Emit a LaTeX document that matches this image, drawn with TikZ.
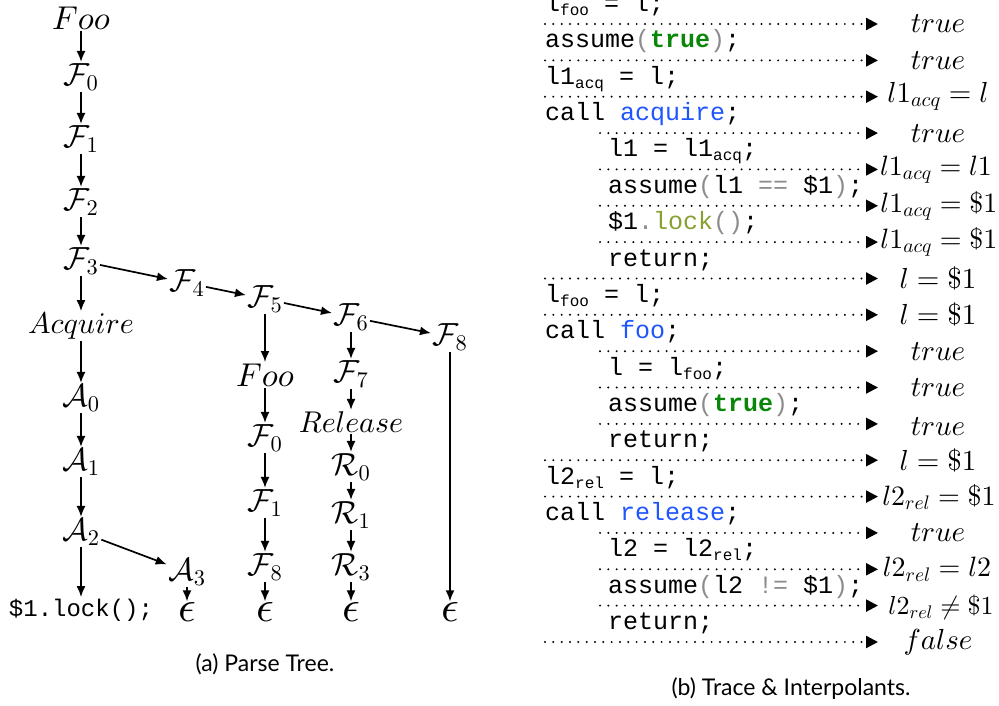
\documentclass[tikz,border=0pt]{standalone}
\usepackage{fontspec}
\setsansfont{Lato}
\newfontfamily\cdfont{Liberation Mono}
\DeclareFontFamily{OML}{cmm}{\skewchar\font127 }
\DeclareFontShape{OML}{cmm}{m}{it}{<-> cmmi10}{}
\DeclareFontFamily{OMS}{cmsy}{\skewchar\font48 }
\DeclareFontShape{OMS}{cmsy}{m}{n}{<-> cmsy10}{}
\DeclareFontFamily{OT1}{cmr}{\hyphenchar\font45 }
\DeclareFontShape{OT1}{cmr}{m}{n}{<-> cmr10}{}
\usetikzlibrary{arrows.meta}
\newcommand\csub[1]{\raisebox{-4pt}{\fontsize{16}{16}\selectfont #1}}
\definecolor{kwgreen}{RGB}{10,135,10}
\definecolor{cgray}{RGB}{140,140,140}
\definecolor{cblue}{RGB}{30,85,255}
\definecolor{colive}{RGB}{135,160,50}
\begin{document}
\begin{tikzpicture}[x=1pt,y=-1pt,
  cal/.style={inner sep=1.5pt,font=\fontsize{32}{32}\selectfont},
  wrd/.style={inner sep=1.5pt,font=\fontsize{30}{30}\selectfont},
  foo/.style={inner sep=1.5pt,font=\fontsize{33}{33}\selectfont},
  eps/.style={inner sep=1pt,font=\fontsize{44}{44}\selectfont},
  tarr/.style={-{Latex[length=11pt,width=9pt]},line width=1.7pt},
  code/.style={anchor=base west,inner sep=0pt,font=\cdfont\fontsize{25}{25}\selectfont},
  itp/.style={inner sep=0pt,font=\fontsize{29}{29}\selectfont},
  dotarr/.style={line width=2.2pt,line cap=round,dash pattern=on 0pt off 8.33pt,
    -{Triangle[length=12pt,width=12pt]}},
  captxt/.style={inner sep=0pt,font=\sffamily\fontsize{23}{23}\selectfont}
]
\useasboundingbox (0,0) rectangle (999,706);

% ---------- parse tree ----------
\node[foo] (foo1) at (81,18) {$Foo$};
\node[cal] (f0a) at (81,77) {$\mathcal{F}_0$};
\node[cal] (f1a) at (81,139) {$\mathcal{F}_1$};
\node[cal] (f2a) at (81,202) {$\mathcal{F}_2$};
\node[cal] (f3) at (81,261) {$\mathcal{F}_3$};
\node[wrd] (acq) at (81,326) {$Acquire$};
\node[cal] (a0) at (81,398) {$\mathcal{A}_0$};
\node[cal] (a1) at (81,462) {$\mathcal{A}_1$};
\node[cal] (a2) at (81,532) {$\mathcal{A}_2$};
\node[inner sep=1.5pt,font=\cdfont\fontsize{24}{24}\selectfont] (lock) at (81,610) {\$1.lock();};
\node[cal] (a3) at (187,572) {$\mathcal{A}_3$};
\node[eps] (e1) at (187,612) {$\epsilon$};

\node[cal] (f4) at (187,283) {$\mathcal{F}_4$};
\node[cal] (f5) at (265,299) {$\mathcal{F}_5$};
\node[foo] (foo2) at (265,375) {$Foo$};
\node[cal] (f0b) at (265,438) {$\mathcal{F}_0$};
\node[cal] (f1b) at (265,503) {$\mathcal{F}_1$};
\node[cal] (f8b) at (265,567) {$\mathcal{F}_8$};
\node[eps] (e2) at (265,612) {$\epsilon$};

\node[cal] (f6) at (351,317) {$\mathcal{F}_6$};
\node[cal] (f7) at (351,374) {$\mathcal{F}_7$};
\node[wrd] (rel) at (351,422) {$Release$};
\node[cal] (r0) at (351,467) {$\mathcal{R}_0$};
\node[cal] (r1) at (351,515) {$\mathcal{R}_1$};
\node[cal] (r3) at (351,567) {$\mathcal{R}_3$};
\node[eps] (e3) at (351,612) {$\epsilon$};

\node[cal] (f8a) at (450,337) {$\mathcal{F}_8$};
\node[eps] (e4) at (450,612) {$\epsilon$};

\draw[tarr] (foo1) -- (f0a);
\draw[tarr] (f0a) -- (f1a);
\draw[tarr] (f1a) -- (f2a);
\draw[tarr] (f2a) -- (f3);
\draw[tarr] (f3) -- (acq);
\draw[tarr] (acq) -- (a0);
\draw[tarr] (a0) -- (a1);
\draw[tarr] (a1) -- (a2);
\draw[tarr] (a2) -- (lock);
\draw[tarr] (a2) -- (a3);
\draw[tarr] (a3) -- (e1);
\draw[tarr] (f3) -- (f4);
\draw[tarr] (f4) -- (f5);
\draw[tarr] (f5) -- (f6);
\draw[tarr] (f6) -- (f8a);
\draw[tarr] (f8a) -- (e4);
\draw[tarr] (f5) -- (foo2);
\draw[tarr] (foo2) -- (f0b);
\draw[tarr] (f0b) -- (f1b);
\draw[tarr] (f1b) -- (f8b);
\draw[tarr] (f8b) -- (e2);
\draw[tarr] (f6) -- (f7);
\draw[tarr] (f7) -- (rel);
\draw[tarr] (rel) -- (r0);
\draw[tarr] (r0) -- (r1);
\draw[tarr] (r1) -- (r3);
\draw[tarr] (r3) -- (e3);

\node[captxt] (capa) at (265,664) {(a) Parse Tree.};

% ---------- trace ----------
\node[code] (c0) at (545,11.5) {l\csub{foo} = l;};
\node[code] (c1) at (545,47.9) {assume{\color{cgray}(}{\color{kwgreen}\bfseries true}{\color{cgray})};};
\node[code] (c2) at (545,84.2) {l1\csub{acq} = l;};
\node[code] (c3) at (545,120.6) {call {\color{cblue}acquire};};
\node[code] (c4) at (608,156.9) {l1 = l1\csub{acq};};
\node[code] (c5) at (608,193.3) {assume{\color{cgray}(}l1 {\color{cgray}==} \$1{\color{cgray})};};
\node[code] (c6) at (608,229.6) {\$1{\color{cgray}.}{\color{colive}lock}{\color{cgray}()};};
\node[code] (c7) at (608,266.0) {return;};
\node[code] (c8) at (545,302.3) {l\csub{foo} = l;};
\node[code] (c9) at (545,338.7) {call {\color{cblue}foo};};
\node[code] (c10) at (608,375.0) {l = l\csub{foo};};
\node[code] (c11) at (608,411.4) {assume{\color{cgray}(}{\color{kwgreen}\bfseries true}{\color{cgray})};};
\node[code] (c12) at (608,447.7) {return;};
\node[code] (c13) at (545,484.1) {l2\csub{rel} = l;};
\node[code] (c14) at (545,520.4) {call {\color{cblue}release};};
\node[code] (c15) at (608,556.8) {l2 = l2\csub{rel};};
\node[code] (c16) at (608,593.1) {assume{\color{cgray}(}l2 {\color{cgray}!=} \$1{\color{cgray})};};
\node[code] (c17) at (608,629.5) {return;};

% dotted arrow endpoints
\foreach \i/\yy/\xs in {0/24.0/545,1/60.4/545,2/96.7/545,3/133.1/600,4/169.4/600,5/205.8/600,
  6/242.1/600,7/278.5/545,8/314.8/545,9/351.2/600,10/387.5/600,11/423.9/600,12/460.2/545,
  13/496.6/545,14/532.9/600,15/569.3/600,16/605.6/600,17/642.0/545}{
  \coordinate (s\i) at (\xs,\yy);
  \coordinate (t\i) at (878,\yy);
}
\foreach \i in {0,...,17}{ \draw[dotarr] (s\i) -- (t\i); }

\node[itp] (i0) at (938,24.0) {$true$};
\node[itp] (i1) at (938,60.4) {$true$};
\node[itp] (i2) at (938,96.7) {$l1_{acq} = l$};
\node[itp] (i3) at (938,133.1) {$true$};
\node[itp,font=\fontsize{28}{28}\selectfont] (i4) at (936,169.4) {$l1_{acq} = l1$};
\node[itp,font=\fontsize{28}{28}\selectfont] (i5) at (939,205.8) {$l1_{acq} = \$1$};
\node[itp,font=\fontsize{28}{28}\selectfont] (i6) at (939,242.1) {$l1_{acq} = \$1$};
\node[itp] (i7) at (938,278.5) {$l = \$1$};
\node[itp] (i8) at (938,314.8) {$l = \$1$};
\node[itp] (i9) at (938,351.2) {$true$};
\node[itp] (i10) at (938,387.5) {$true$};
\node[itp] (i11) at (938,427) {$true$};
\node[itp] (i12) at (938,460.2) {$l = \$1$};
\node[itp,font=\fontsize{28}{28}\selectfont] (i13) at (939,496.6) {$l2_{rel} = \$1$};
\node[itp] (i14) at (938,532.9) {$true$};
\node[itp,font=\fontsize{28}{28}\selectfont] (i15) at (937,569.3) {$l2_{rel} = l2$};
\node[itp,font=\fontsize{26}{26}\selectfont] (i16) at (941,607) {$l2_{rel} \neq \$1$};
\node[itp] (i17) at (938,642.0) {$false$};

\node[captxt] (capb) at (791,689) {(b) Trace \& Interpolants.};
\end{tikzpicture}
\end{document}
